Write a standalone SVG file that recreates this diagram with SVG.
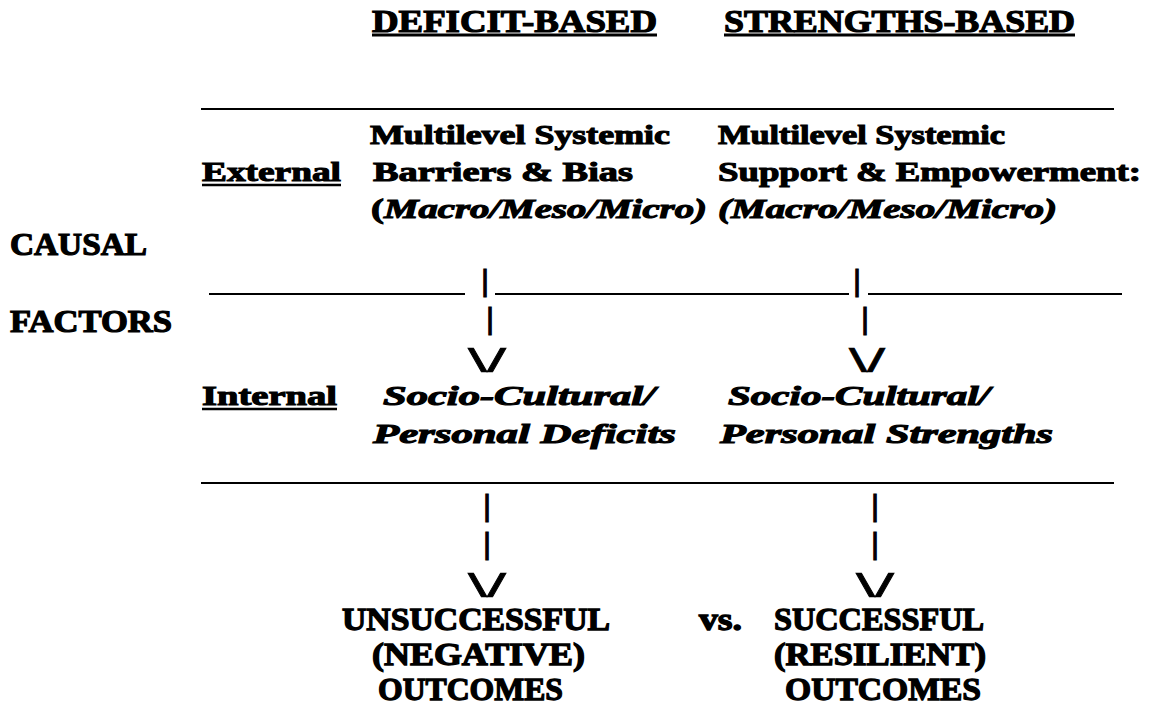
<svg xmlns="http://www.w3.org/2000/svg" width="1151" height="708" viewBox="0 0 1151 708">
<style>
  text { fill:#000; }
  .poster { font-family:"Liberation Serif","Times New Roman",serif; font-weight:bold; font-size:31px; stroke:#000; stroke-width:1.2; }
  .out { font-family:"Liberation Serif","Times New Roman",serif; font-weight:bold; font-size:32px; stroke:#000; stroke-width:1.3; }
  .body { font-family:"Liberation Serif","Times New Roman",serif; font-weight:bold; font-size:28px; stroke:#000; stroke-width:1.1; }
  .ital { font-family:"Liberation Serif","Times New Roman",serif; font-weight:bold; font-style:italic; font-size:28px; stroke:#000; stroke-width:1.1; }
  .upr { font-style:normal; }
  .bar { font-family:"Liberation Sans",Arial,sans-serif; font-size:29px; stroke:#000; stroke-width:1.2; text-anchor:middle; }
  .vee { font-family:"Liberation Sans",Arial,sans-serif; font-size:34px; stroke:#000; stroke-width:0.6; text-anchor:middle; }
  .rule { stroke:#000; stroke-width:2; fill:none; }
  .ul { stroke:#000; stroke-width:3; fill:none; }
  .ul2 { stroke:#000; stroke-width:2.4; fill:none; }
</style>
<rect width="1151" height="708" fill="#fff"/>

<g id="heading-deficit">
  <text class="poster" x="372" y="32" textLength="285" lengthAdjust="spacingAndGlyphs">DEFICIT-BASED</text>
  <line class="ul" x1="372" y1="35" x2="657" y2="35"/>
</g>
<g id="heading-strengths">
  <text class="poster" x="724" y="32" textLength="351" lengthAdjust="spacingAndGlyphs">STRENGTHS-BASED</text>
  <line class="ul" x1="724" y1="35" x2="1075" y2="35"/>
</g>

<g id="rules">
  <line class="rule" x1="201" y1="109" x2="1114" y2="109"/>
  <line class="rule" x1="201" y1="483" x2="1114" y2="483"/>
</g>

<g id="label-causal-factors">
  <text class="poster" x="10" y="255" textLength="137" lengthAdjust="spacingAndGlyphs">CAUSAL</text>
  <text class="poster" x="10" y="332" textLength="162" lengthAdjust="spacingAndGlyphs">FACTORS</text>
</g>

<g id="label-external">
  <text class="body" x="202" y="181" textLength="139" lengthAdjust="spacingAndGlyphs">External</text>
  <line class="ul2" x1="202" y1="185" x2="341" y2="185"/>
</g>
<g id="label-internal">
  <text class="body" x="202" y="405" textLength="135" lengthAdjust="spacingAndGlyphs">Internal</text>
  <line class="ul2" x1="202" y1="409" x2="337" y2="409"/>
</g>

<g id="node-external-deficit">
  <text class="body" x="370" y="144" textLength="300" lengthAdjust="spacingAndGlyphs">Multilevel Systemic</text>
  <text class="body" x="373" y="181" textLength="260" lengthAdjust="spacingAndGlyphs">Barriers &amp; Bias</text>
  <text class="ital" x="371" y="218" textLength="336" lengthAdjust="spacingAndGlyphs"><tspan class="upr">(</tspan>Macro/Meso/Micro)</text>
</g>
<g id="node-external-strengths">
  <text class="body" x="718" y="144" textLength="287" lengthAdjust="spacingAndGlyphs">Multilevel Systemic</text>
  <text class="body" x="718" y="181" textLength="423" lengthAdjust="spacingAndGlyphs">Support &amp; Empowerment:</text>
  <text class="ital" x="718" y="218" textLength="339" lengthAdjust="spacingAndGlyphs">(Macro/Meso/Micro)</text>
</g>

<g id="node-internal-deficit">
  <text class="ital" x="383" y="405" textLength="272" lengthAdjust="spacingAndGlyphs">Socio-Cultural/</text>
  <text class="ital" x="373" y="443" textLength="303" lengthAdjust="spacingAndGlyphs">Personal Deficits</text>
</g>
<g id="node-internal-strengths">
  <text class="ital" x="728" y="405" textLength="262" lengthAdjust="spacingAndGlyphs">Socio-Cultural/</text>
  <text class="ital" x="720" y="443" textLength="333" lengthAdjust="spacingAndGlyphs">Personal Strengths</text>
</g>

<g id="node-outcome-negative">
  <text class="out" x="342" y="630" textLength="268" lengthAdjust="spacingAndGlyphs">UNSUCCESSFUL</text>
  <text class="out" x="372" y="665" textLength="213" lengthAdjust="spacingAndGlyphs">(NEGATIVE)</text>
  <text class="out" x="378" y="700" textLength="185" lengthAdjust="spacingAndGlyphs">OUTCOMES</text>
</g>
<g id="label-vs">
  <text class="out" x="699" y="630" textLength="43" lengthAdjust="spacingAndGlyphs">vs.</text>
</g>
<g id="node-outcome-resilient">
  <text class="out" x="774" y="630" textLength="210" lengthAdjust="spacingAndGlyphs">SUCCESSFUL</text>
  <text class="out" x="774" y="665" textLength="212" lengthAdjust="spacingAndGlyphs">(RESILIENT)</text>
  <text class="out" x="785" y="700" textLength="196" lengthAdjust="spacingAndGlyphs">OUTCOMES</text>
</g>

<g id="connectors">
  <line class="rule" x1="209" y1="294" x2="465" y2="294"/>
  <line class="rule" x1="495" y1="294" x2="849" y2="294"/>
  <line class="rule" x1="868" y1="294" x2="1122" y2="294"/>
  <text class="bar" x="485" y="291">|</text>
  <text class="bar" x="857" y="291">|</text>
  <text class="bar" x="490" y="329">|</text>
  <text class="bar" x="865" y="329">|</text>
  <text class="vee" x="487" y="372" textLength="38" lengthAdjust="spacingAndGlyphs">\/</text>
  <text class="vee" x="867" y="372" textLength="36" lengthAdjust="spacingAndGlyphs">\/</text>
  <text class="bar" x="487" y="516">|</text>
  <text class="bar" x="487" y="554">|</text>
  <text class="bar" x="875" y="516">|</text>
  <text class="bar" x="875" y="554">|</text>
  <text class="vee" x="487" y="597" textLength="38" lengthAdjust="spacingAndGlyphs">\/</text>
  <text class="vee" x="875" y="597" textLength="38" lengthAdjust="spacingAndGlyphs">\/</text>
</g>
</svg>
